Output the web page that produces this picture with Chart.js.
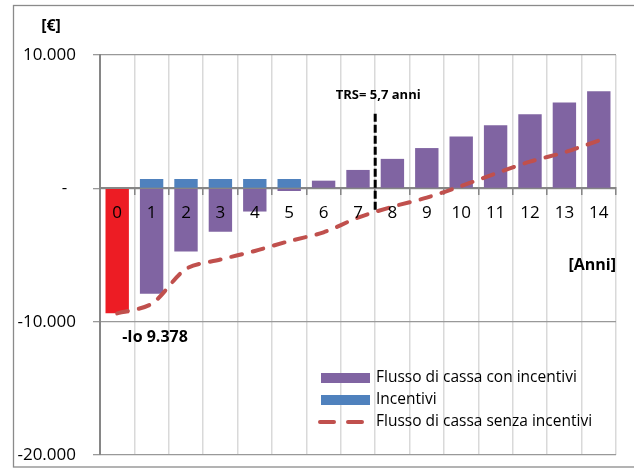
<!DOCTYPE html>
<html>
<head>
<meta charset="utf-8">
<title>Flussi di cassa</title>
<script src="https://cdn.jsdelivr.net/npm/chart.js@4.4.1/dist/chart.umd.min.js"></script>
<style>
  html, body { margin: 0; padding: 0; background: #fff; }
  #wrap { width: 634px; height: 468px; }
</style>
</head>
<body>
<div id="wrap"><canvas id="flussi" width="634" height="468"></canvas></div>
<script>
// anni di esercizio
var anni = ['0', '1', '2', '3', '4', '5', '6', '7', '8', '9', '10', '11', '12', '13', '14'];
// flusso di cassa cumulato con incentivi (anno 0 = investimento iniziale)
var flussoConIncentivi = [-9378, -7910, -4740, -3250, -1740, -200, 575, 1380, 2210, 3020, 3880, 4730, 5560, 6440, 7290];
// incentivi annui (solo primi 5 anni)
var incentivi = [null, 700, 700, 700, 700, 700, null, null, null, null, null, null, null, null, null];
// flusso di cassa cumulato senza incentivi
var flussoSenzaIncentivi = [-9378, -8660, -6050, -5340, -4700, -3960, -3300, -2200, -1380, -700, 170, 1110, 2000, 2700, 3580];
var yTicks = [-20000, -10000, 0, 10000];

// tempo di ritorno semplice
var trsTesto = 'TRS= 5,7 anni';
var trsX = 7.5;
var trsDa = -1600, trsA = 5600, trsTestoY = 7000;
var etichettaIoY = -11150;

var viola = '#8064A2', blu = '#4F81BD', rosso = '#C0504D', rossoIo = '#ED1C24';
var font = '"Open Sans", "DejaVu Sans", sans-serif';

function migliaia(v) {
    return String(Math.abs(v)).replace(/\B(?=(\d{3})+(?!\d))/g, '.');
}

var coloriBarre = flussoConIncentivi.map(function(v, i) { return i === 0 ? rossoIo : viola; });

var decorazioni = {
    id: 'decorazioni',
    beforeDraw: function(chart) {
        var ctx = chart.ctx;
        ctx.save();
        ctx.strokeStyle = '#8a8a8a';
        ctx.lineWidth = 1.3;
        ctx.strokeRect(13.5, 5.5, 660, 461.5);
        ctx.restore();
    },
    afterDatasetsDraw: function(chart) {
        var ctx = chart.ctx, x = chart.scales.x, y = chart.scales.y, area = chart.chartArea;
        var y0 = y.getPixelForValue(0);
        ctx.save();

        // anni sopra le barre, appena sotto l'asse dello zero
        ctx.fillStyle = '#000';
        ctx.font = '17px ' + font;
        ctx.textAlign = 'center';
        ctx.textBaseline = 'middle';
        anni.forEach(function(a, i) {
            ctx.fillText(a, x.getPixelForValue(i), y0 + 25);
        });

        // linea del TRS
        var passo = x.getPixelForValue(1) - x.getPixelForValue(0);
        var px = x.getPixelForValue(Math.floor(trsX)) + (trsX - Math.floor(trsX)) * passo;
        ctx.strokeStyle = '#000';
        ctx.lineWidth = 3;
        ctx.setLineDash([8, 3]);
        ctx.beginPath();
        ctx.moveTo(px, y.getPixelForValue(trsA));
        ctx.lineTo(px, y.getPixelForValue(trsDa));
        ctx.stroke();
        ctx.setLineDash([]);

        ctx.font = 'bold 13px ' + font;
        ctx.fillText(trsTesto, px + 3, y.getPixelForValue(trsTestoY));

        // investimento iniziale
        ctx.font = 'bold 16px ' + font;
        ctx.textAlign = 'left';
        ctx.fillText('-Io ' + migliaia(flussoConIncentivi[0]), x.getPixelForValue(0) + 5, y.getPixelForValue(etichettaIoY));

        // titoli degli assi
        ctx.textAlign = 'center';
        ctx.fillText('[€]', 51, area.top - 29);
        ctx.textAlign = 'right';
        ctx.fillText('[Anni]', area.right, y0 + 77);

        // legenda
        var ds = chart.data.datasets;
        var voci = [ds[1], ds[2], ds[0]];
        var lx = area.right - 295, ly = area.bottom - 77;
        ctx.font = '15.5px ' + font;
        voci.forEach(function(d, i) {
            var cy = ly + i * 22;
            if (d.type === 'line') {
                ctx.strokeStyle = d.borderColor;
                ctx.lineWidth = 4;
                ctx.lineCap = 'round';
                ctx.setLineDash([14, 14]);
                ctx.beginPath();
                ctx.moveTo(lx - 1, cy);
                ctx.lineTo(lx + 43, cy);
                ctx.stroke();
                ctx.setLineDash([]);
            } else {
                ctx.fillStyle = i === 0 ? viola : d.backgroundColor;
                ctx.fillRect(lx, cy - 5, 49, 10);
            }
            ctx.fillStyle = '#000';
            ctx.textAlign = 'left';
            ctx.fillText(d.label, lx + 55, cy);
        });
        ctx.restore();
    }
};

new Chart(document.getElementById('flussi'), {
    type: 'bar',
    data: {
        labels: anni,
        datasets: [{
            type: 'line',
            label: 'Flusso di cassa senza incentivi',
            data: flussoSenzaIncentivi,
            borderColor: rosso,
            borderWidth: 4,
            borderDash: [11, 11],
            borderCapStyle: 'round',
            pointRadius: 0,
            tension: 0.3,
            fill: false,
            stack: 'linea',
            order: 0
        }, {
            label: 'Flusso di cassa con incentivi',
            data: flussoConIncentivi,
            backgroundColor: coloriBarre,
            stack: 'barre',
            order: 1
        }, {
            label: 'Incentivi',
            data: incentivi,
            backgroundColor: blu,
            stack: 'barre',
            order: 2
        }]
    },
    options: {
        responsive: false,
        animation: false,
        layout: { padding: { top: 55, right: 18, bottom: 13, left: 0 } },
        datasets: { bar: { barPercentage: 0.68, categoryPercentage: 1 } },
        plugins: {
            legend: { display: false },
            tooltip: { enabled: false }
        },
        scales: {
            x: {
                stacked: true,
                position: { y: 0 },
                afterFit: function(s) { s.height = 0; s.paddingLeft = 0; s.paddingRight = 0; },
                grid: { color: '#d9d9d9', lineWidth: 1.5, offset: true, tickLength: 6, tickColor: '#868686' },
                border: { color: '#868686', width: 2 },
                ticks: { display: false }
            },
            y: {
                stacked: true,
                min: -20000,
                max: 10000,
                afterFit: function(s) { s.width = 100; s.paddingTop = 0; s.paddingBottom = 0; },
                afterBuildTicks: function(s) { s.ticks = yTicks.map(function(v) { return { value: v }; }); },
                grid: { color: '#999', lineWidth: 1.3, tickLength: 7, tickColor: '#999' },
                border: { color: '#868686', width: 2 },
                ticks: {
                    color: '#000',
                    font: { family: font, size: 17 },
                    padding: 17,
                    callback: function(v) { return v === 0 ? '-  ' : (v < 0 ? '-' : '') + migliaia(v); }
                }
            }
        }
    },
    plugins: [decorazioni]
});
</script>
</body>
</html>
